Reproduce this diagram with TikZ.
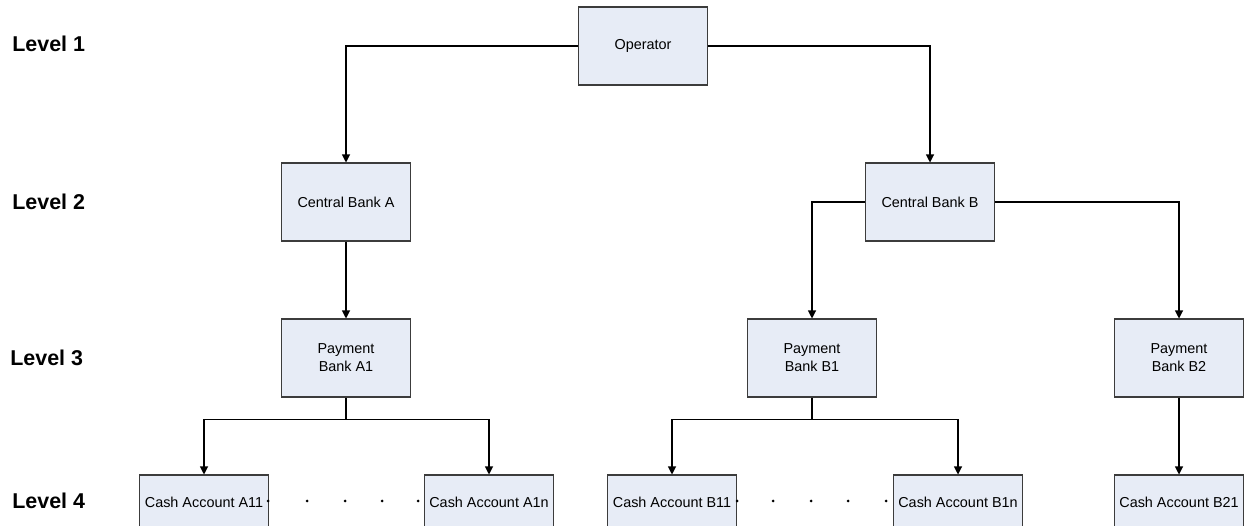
\documentclass[tikz,border=0pt]{standalone}
\usepackage{fontspec}
\setmainfont{Liberation Sans}
\usepackage{xcolor}
\usetikzlibrary{arrows.meta}
\usetikzlibrary{calc}
\usetikzlibrary{positioning}
\definecolor{boxfill}{HTML}{E7ECF6}
\definecolor{boxline}{HTML}{3C3C3C}

\tikzset{
	unit/.style={draw=boxline, fill=boxfill, line width=0.6pt, minimum width=2.58cm, minimum height=1.56cm, align=center, inner sep=0pt, font=\fontsize{8.2}{10.2}\selectfont},
	cashbox/.style={unit, minimum height=1.08cm},
	lvl/.style={anchor=west, inner sep=0pt, font=\fontsize{12.2}{14}\selectfont\bfseries},
	link/.style={line width=0.6pt, black}
}

\begin{document}
\begin{tikzpicture}[>={Triangle[length=1.6mm,width=1.6mm]}, x=0.02cm, y=-0.02cm]
\useasboundingbox (0,0) rectangle (1244,526);
\clip (0,0) rectangle (1244,526);

% levels
\node[lvl] (l1) at (12,44) {Level 1};
\node[lvl] (l2) at (12,202) {Level 2};
\node[lvl] (l3) at (10,358) {Level 3};
\node[lvl] (l4) at (12,501) {Level 4};

% boxes
\node[unit] (op) at (643,46) {Operator};
\node[unit] (cba) at (346,202) {Central Bank A};
\node[unit] (cbb) at (930,202) {Central Bank B};
\node[unit] (pba1) at (346,358) {Payment\\Bank A1};
\node[unit] (pbb1) at (812,358) {Payment\\Bank B1};
\node[unit] (pbb2) at (1179,358) {Payment\\Bank B2};
\node[cashbox] (caa11) at (204,502) {Cash Account A11};
\node[cashbox] (caa1n) at (489,502) {Cash Account A1n};
\node[cashbox] (cab11) at (672,502) {Cash Account B11};
\node[cashbox] (cab1n) at (958,502) {Cash Account B1n};
\node[cashbox] (cab21) at (1179,502) {Cash Account B21};

% links
\draw[link,->] (op) -| (cba);
\draw[link,->] (op) -| (cbb);
\draw[link,->] (cba) -- (pba1);
\draw[link,->] (cbb) -| (pbb1);
\draw[link,->] (cbb) -| (pbb2);
\draw[link] (pba1.south) -- ++(0,22) coordinate (ja);
\draw[link,->] (ja) -| (caa11);
\draw[link,->] (ja) -| (caa1n);
\draw[link] (pbb1.south) -- ++(0,22) coordinate (jb);
\draw[link,->] (jb) -| (cab11);
\draw[link,->] (jb) -| (cab1n);
\draw[link,->] (pbb2) -- (cab21);

% dots
\foreach \x in {268,307,345,382,418}{
	\fill (\x,501) circle (1.5);
}
\foreach \x in {737,773,811,848,886}{
	\fill (\x,501) circle (1.5);
}
\end{tikzpicture}
\end{document}
